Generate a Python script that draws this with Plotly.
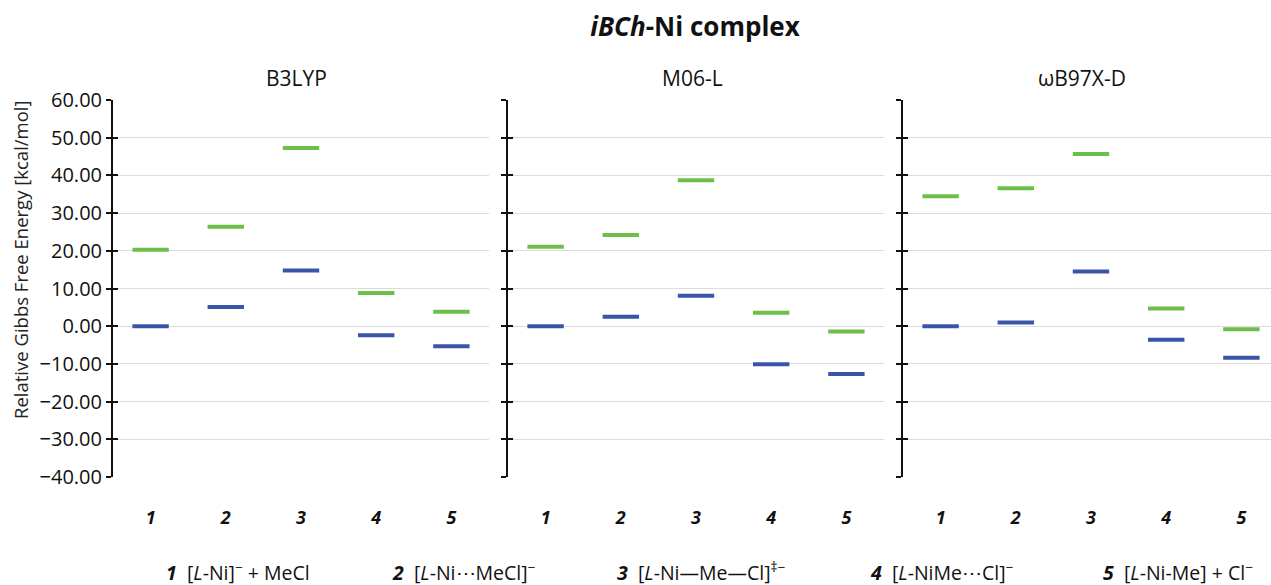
import plotly.graph_objects as go

categories = ["1", "2", "3", "4", "5"]
category_labels = ["<b><i>1</i></b>", "<b><i>2</i></b>", "<b><i>3</i></b>", "<b><i>4</i></b>", "<b><i>5</i></b>"]
methods = ["B3LYP", "M06-L", "ωB97X-D"]

b3lyp_upper = [20.3, 26.4, 47.3, 8.8, 3.8]
b3lyp_lower = [0.0, 5.1, 14.8, -2.4, -5.3]
m06l_upper = [21.1, 24.2, 38.7, 3.6, -1.4]
m06l_lower = [0.0, 2.5, 8.1, -10.1, -12.7]
wb97xd_upper = [34.5, 36.6, 45.7, 4.7, -0.8]
wb97xd_lower = [0.0, 1.0, 14.5, -3.6, -8.4]

y_ticks = [60, 50, 40, 30, 20, 10, 0, -10, -20, -30, -40]

legend_texts = [
    "<b><i>1</i></b>\u00a0\u00a0[<i>L</i>-Ni]<sup>\u2212</sup> + MeCl",
    "<b><i>2</i></b>\u00a0\u00a0[<i>L</i>-Ni\u22efMeCl]<sup>\u2212</sup>",
    "<b><i>3</i></b>\u00a0\u00a0[<i>L</i>-Ni\u2014Me\u2014Cl]<sup>\u2021\u2212</sup>",
    "<b><i>4</i></b>\u00a0\u00a0[<i>L</i>-NiMe\u22efCl]<sup>\u2212</sup>",
    "<b><i>5</i></b>\u00a0\u00a0[<i>L</i>-Ni-Me] + Cl<sup>\u2212</sup>",
]

GREEN = "#6cc04a"
BLUE = "#3a55a8"
FONT = "Open Sans"

W, H = 1271, 585
ML, MR, MT, MB = 113, 0, 100, 108
PW = W - ML - MR
PH = H - MT - MB

def px_x(p):
    return (p - ML) / PW

def px_y(p):
    return (H - MB - p) / PH

domains = [[0, px_x(489)], [px_x(508), px_x(884)], [px_x(903), 1.0]]
cat_px = (489 - 113) / 5.0
x3_end = 4.5 - (903 + 376 - W) / cat_px
x_ranges = [[-0.5, 4.5], [-0.5, 4.5], [-0.5, x3_end]]

series = [(b3lyp_upper, b3lyp_lower), (m06l_upper, m06l_lower), (wb97xd_upper, wb97xd_lower)]

fig = go.Figure()
for i, (up, lo) in enumerate(series):
    xa = "x" if i == 0 else f"x{i+1}"
    ya = "y" if i == 0 else f"y{i+1}"
    for vals, col in ((up, GREEN), (lo, BLUE)):
        fig.add_trace(go.Scatter(
            x=categories, y=vals, mode="markers", xaxis=xa, yaxis=ya,
            marker=dict(symbol="line-ew", size=26, line=dict(color=col, width=4)),
            showlegend=False, hoverinfo="y"))
    # helper trace for crossing-tick overlay axis
    fig.add_trace(go.Scatter(x=[], y=[], xaxis=xa, yaxis=f"y{i+4}", showlegend=False))

layout = dict(
    width=W, height=H,
    margin=dict(l=ML, r=MR, t=MT, b=MB),
    paper_bgcolor="white", plot_bgcolor="white",
    font=dict(family=FONT, color="#222222"),
    title=dict(text="<b><i>iBCh</i>-Ni complex</b>", x=695 / W, xref="container", xanchor="center",
               y=1 - 27 / H, yref="container", yanchor="middle", font=dict(size=26, color="#111111")),
    showlegend=False,
)

for i in range(3):
    xk = "xaxis" if i == 0 else f"xaxis{i+1}"
    yk = "yaxis" if i == 0 else f"yaxis{i+1}"
    xa = "x" if i == 0 else f"x{i+1}"
    ya = "y" if i == 0 else f"y{i+1}"
    layout[xk] = dict(domain=domains[i], anchor=ya, type="category", range=x_ranges[i],
                      showgrid=False, zeroline=False, showline=False, ticks="",
                      tickvals=categories, ticktext=category_labels,
                      tickfont=dict(size=18, color="#111111"), ticklabelstandoff=28)
    layout[yk] = dict(anchor=xa, range=[-40, 60], tickvals=y_ticks, tickformat=".2f",
                      showgrid=True, gridcolor="#dcdcdc", gridwidth=1, zeroline=False,
                      showline=True, linecolor="#111111", linewidth=2,
                      ticks="outside", ticklen=5, tickwidth=2, tickcolor="#111111",
                      showticklabels=(i == 0), tickfont=dict(size=20, color="#111111"))
    if i > 0:
        layout[yk]["matches"] = "y"
    layout[f"yaxis{i+4}"] = dict(anchor=xa, overlaying=ya, range=[-40, 60], tickvals=y_ticks,
                                 showgrid=False, zeroline=False, showline=False,
                                 ticks="inside", ticklen=5, tickwidth=2, tickcolor="#111111",
                                 showticklabels=False, side="left")

annotations = []
sub_centers = [296, 692, 1082]
for name, cx in zip(methods, sub_centers):
    annotations.append(dict(text=name, x=px_x(cx), y=px_y(78), xref="paper", yref="paper",
                            xanchor="center", yanchor="middle", showarrow=False,
                            font=dict(size=21, color="#111111")))
annotations.append(dict(text="Relative Gibbs Free Energy [kcal/mol]", textangle=-90,
                        x=px_x(20), y=px_y(260), xref="paper", yref="paper",
                        xanchor="center", yanchor="middle", showarrow=False,
                        font=dict(size=18.5, color="#222222")))
legend_centers = [238, 464, 701, 942, 1178]
for t, cx in zip(legend_texts, legend_centers):
    annotations.append(dict(text=t, x=px_x(cx), y=px_y(571), xref="paper", yref="paper",
                            xanchor="center", yanchor="middle", showarrow=False,
                            font=dict(size=19.5, color="#111111")))
layout["annotations"] = annotations

fig.update_layout(**layout)
fig.write_html("out.html", config={"displayModeBar": False},
               post_script="document.body.style.margin='0';document.body.style.overflow='hidden';")
